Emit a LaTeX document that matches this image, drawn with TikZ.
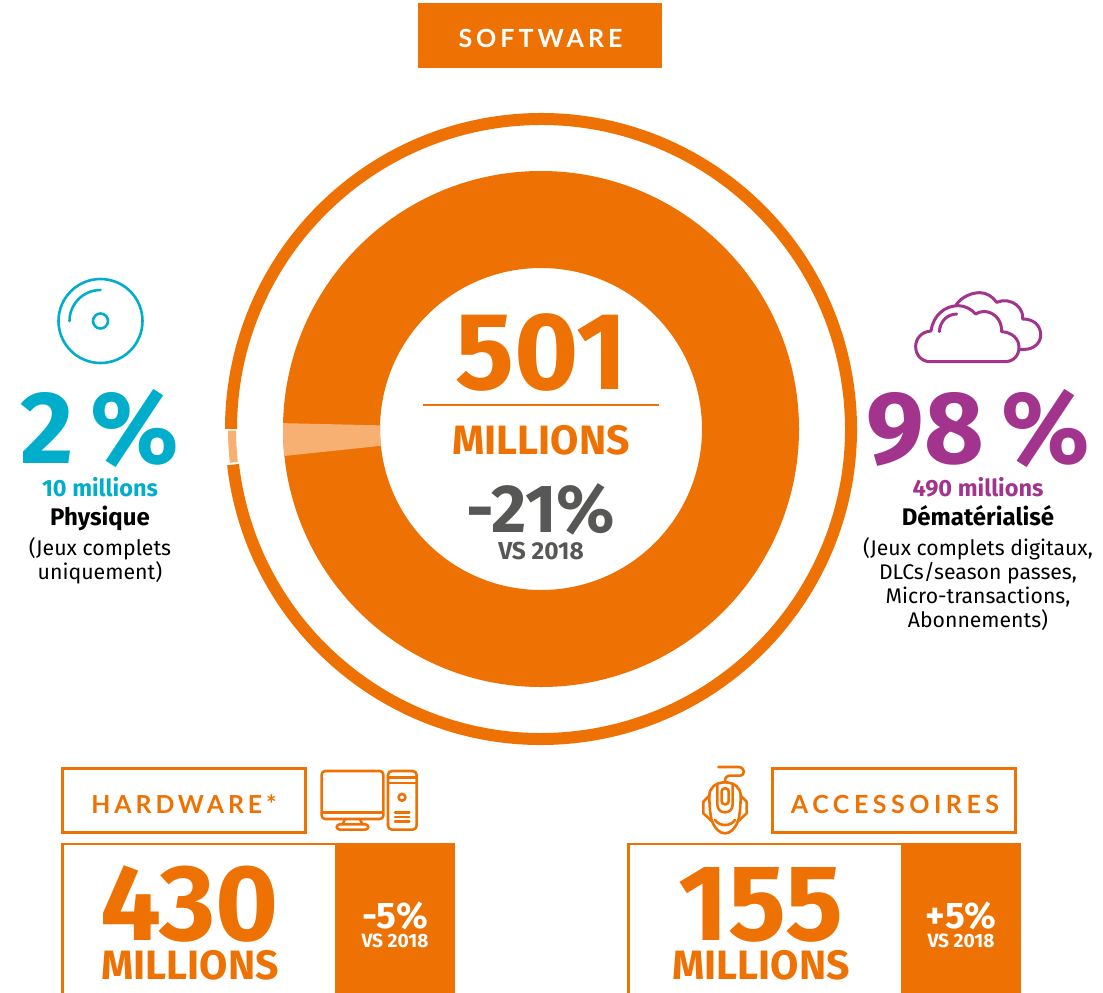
\documentclass[tikz,border=0pt]{standalone}
\usepackage{fontspec}
\setmainfont{Fira Sans}
\newfontfamily\fx{Fira Sans}
\newfontfamily\spcb[LetterSpace=16]{Lato}
\newfontfamily\spcc[LetterSpace=18]{Lato}
\definecolor{org}{HTML}{EE7203}
\definecolor{pale}{HTML}{F7AF72}
\definecolor{blu}{HTML}{00AECB}
\definecolor{pur}{HTML}{A2348D}
\definecolor{gry}{HTML}{575756}
\newcommand{\fs}[1]{\fontsize{#1}{#1}\selectfont}
\tikzset{
  x=1pt,y=-1pt,
  lbl/.style={inner sep=0pt,anchor=base,align=center},
  icon/.style={line width=2.6pt,line cap=round,line join=round},
  frame/.style={draw=org,line width=2.5pt,fill=white},
}
\begin{document}
\begin{tikzpicture}
\useasboundingbox (0,0) rectangle (1103,993);
% software
\node[fill=org,minimum width=244pt,minimum height=65pt,inner sep=0pt] (sw) at (540,35.5) {};
\node[lbl,text=white] (swt) at (540.5,47) {\spcb\bfseries\fs{25}SOFTWARE};
% outer ring
\coordinate (c) at (541,429);
\draw[org,line width=12pt] (c) ++(186.6:310pt) arc[start angle=186.6,end angle=360+180,radius=310pt];
\draw[pale,line width=8pt] (c) ++(180.3:309pt) arc[start angle=180.3,end angle=186.2,radius=309pt];
% donut
\fill[org,even odd rule] (c) circle[radius=258pt] (c) circle[radius=161pt];
\fill[pale] (c) ++(178.7:258pt) arc[start angle=178.7,end angle=186,radius=258pt] -- ++(6:97pt) arc[start angle=186,end angle=178.7,radius=161pt] -- cycle;
% centre
\node[lbl,text=org] (n501) at (541,389.5) {\fx\bfseries\fs{110}501};
\draw[org,line width=2.2pt] (423,405) -- (659,405);
\node[lbl,text=org] (m1) at (541,454.5) {\fx\bfseries\fs{41}MILLIONS};
\node[lbl,text=gry] (p1) at (541,532) {\fx\bfseries\fs{68}-21\%};
\node[lbl,text=gry] (v1) at (541,559) {\bfseries\fs{24.5}VS 2018};
% left
\draw[blu,icon] (100.5,321) circle[radius=42pt];
\draw[blu,icon] (100.5,321) circle[radius=7.5pt];
\draw[blu,icon] (69.5,321) arc[start angle=180,end angle=90,radius=31pt];
\node[lbl,text=blu] (p2) at (100,463) {\fx\bfseries\fs{103}2\,\%};
\node[lbl,text=blu] (t10) at (100,496) {\bfseries\fs{23.5}10 millions};
\node[lbl] (phy) at (100,525) {\bfseries\fs{24}Physique};
\node[lbl] (j1) at (100,555) {\fs{21.3}(Jeux complets};
\node[lbl] (j2) at (100,579) {\fs{21.3}uniquement)};
% right
\begin{scope}[shift={(850,270)},x=0.3333pt,y=-0.3333pt,pur,icon,line width=3pt]
\draw (240,275) .. controls (215,275) and (197,255) .. (197,230) .. controls (197,205) and (215,185) .. (243,183) .. controls (250,135) and (285,107) .. (325,107) .. controls (345,107) and (365,118) .. (377,132) .. controls (390,123) and (410,122) .. (425,130) .. controls (445,140) and (455,160) .. (455,185) .. controls (485,187) and (507,205) .. (507,232) .. controls (507,257) and (490,275) .. (465,275) -- cycle;
\draw (318,105) .. controls (335,80) and (365,68) .. (390,68) .. controls (410,68) and (428,80) .. (440,97) .. controls (460,88) and (485,92) .. (500,105) .. controls (515,118) and (520,135) .. (518,147) .. controls (550,147) and (572,165) .. (572,195) .. controls (572,220) and (550,238) .. (525,238) -- (507,238);
\draw (268,185) .. controls (270,155) and (290,133) .. (320,132);
\end{scope}
\node[lbl,text=pur] (p98) at (978,463) {\fx\bfseries\fs{103}98\,\%};
\node[lbl,text=pur] (t490) at (978,496) {\bfseries\fs{23.5}490 millions};
\node[lbl] (dem) at (978,525) {\bfseries\fs{24}Dématérialisé};
\node[lbl] (d1) at (978,555) {\fs{21.2}(Jeux complets digitaux,};
\node[lbl] (d2) at (978,579) {\fs{21.2}DLCs/season passes,};
\node[lbl] (d3) at (978,603) {\fs{21.2}Micro-transactions,};
\node[lbl] (d4) at (978,627) {\fs{21.2}Abonnements)};
% hardware
\node[frame,minimum width=243pt,minimum height=64pt,inner sep=0pt] (hw) at (184,800.5) {};
\node[lbl,text=org] (hwt) at (184,813) {\spcb\bfseries\fs{24.8}HARDWARE*};
\begin{scope}[shift={(300,755)},x=0.3333pt,y=-0.3333pt,org,icon]
\draw[rounded corners=3.5pt] (65,48) rectangle (250,192);
\draw (65,172) -- (250,172);
\draw (135,192) -- (128,208) (180,192) -- (187,208);
\draw[rounded corners=3pt] (110,208) rectangle (205,224);
\draw[rounded corners=4pt] (264,48) rectangle (350,224);
\draw (264,68) -- (350,68) (264,84) -- (350,84);
\draw (306,127) circle[radius=3.4pt];
\draw (285,172) -- (328,172) (285,186) -- (328,186) (285,200) -- (328,200);
\end{scope}
\fill[org] (335,843) rectangle (455,993);
\draw[org,line width=2.8pt] (62.5,993) -- (62.5,844) -- (335,844);
\node[lbl,text=org] (n430) at (189.5,940) {\fx\bfseries\fs{108}430};
\node[lbl,text=org] (m2) at (190,979) {\fx\bfseries\fs{41}MILLIONS};
\node[lbl,text=white] (p2h) at (395,928) {\fx\bfseries\fs{37}-5\%};
\node[lbl,text=white] (v2) at (395,947) {\bfseries\fs{19.2}VS 2018};
% accessoires
\node[frame,minimum width=243pt,minimum height=64pt,inner sep=0pt] (ac) at (894,800.5) {};
\node[lbl,text=org] (act) at (895,813) {\spcc\bfseries\fs{25}ACCESSOIRES};
\begin{scope}[shift={(680,755)},x=0.3333pt,y=-0.3333pt,org,line width=2.6pt,line cap=round,line join=round]
\draw (115,36) -- (175,36) .. controls (195,36) and (198,62) .. (178,62) -- (150,62) .. controls (138,62) and (135,70) .. (135,82);
\draw (135,82) .. controls (105,82) and (88,100) .. (88,122) -- (70,140) -- (70,175) -- (97,200) .. controls (105,222) and (120,235) .. (135,235) .. controls (150,235) and (165,222) .. (173,200) -- (200,175) -- (200,140) -- (182,122) .. controls (182,100) and (165,82) .. (135,82);
\draw (88,122) .. controls (88,170) and (95,200) .. (97,200) (182,122) .. controls (182,170) and (175,200) .. (173,200);
\draw (112,87) -- (112,148) .. controls (112,163) and (122,172) .. (135,172) .. controls (148,172) and (158,163) .. (158,148) -- (158,87);
\draw[rounded corners=3pt] (125,100) rectangle (146,148);
\draw (105,195) .. controls (118,215) and (152,215) .. (165,195);
\end{scope}
\fill[org] (901,843) rectangle (1021,993);
\draw[org,line width=2.8pt] (628.5,993) -- (628.5,844) -- (901,844);
\node[lbl,text=org] (n155) at (761,940) {\fx\bfseries\fs{108}155};
\node[lbl,text=org] (m3) at (761,979) {\fx\bfseries\fs{41}MILLIONS};
\node[lbl,text=white] (p3) at (961,928) {\fx\bfseries\fs{37}+5\%};
\node[lbl,text=white] (v3) at (961,947) {\bfseries\fs{19.2}VS 2018};
\end{tikzpicture}
\end{document}
